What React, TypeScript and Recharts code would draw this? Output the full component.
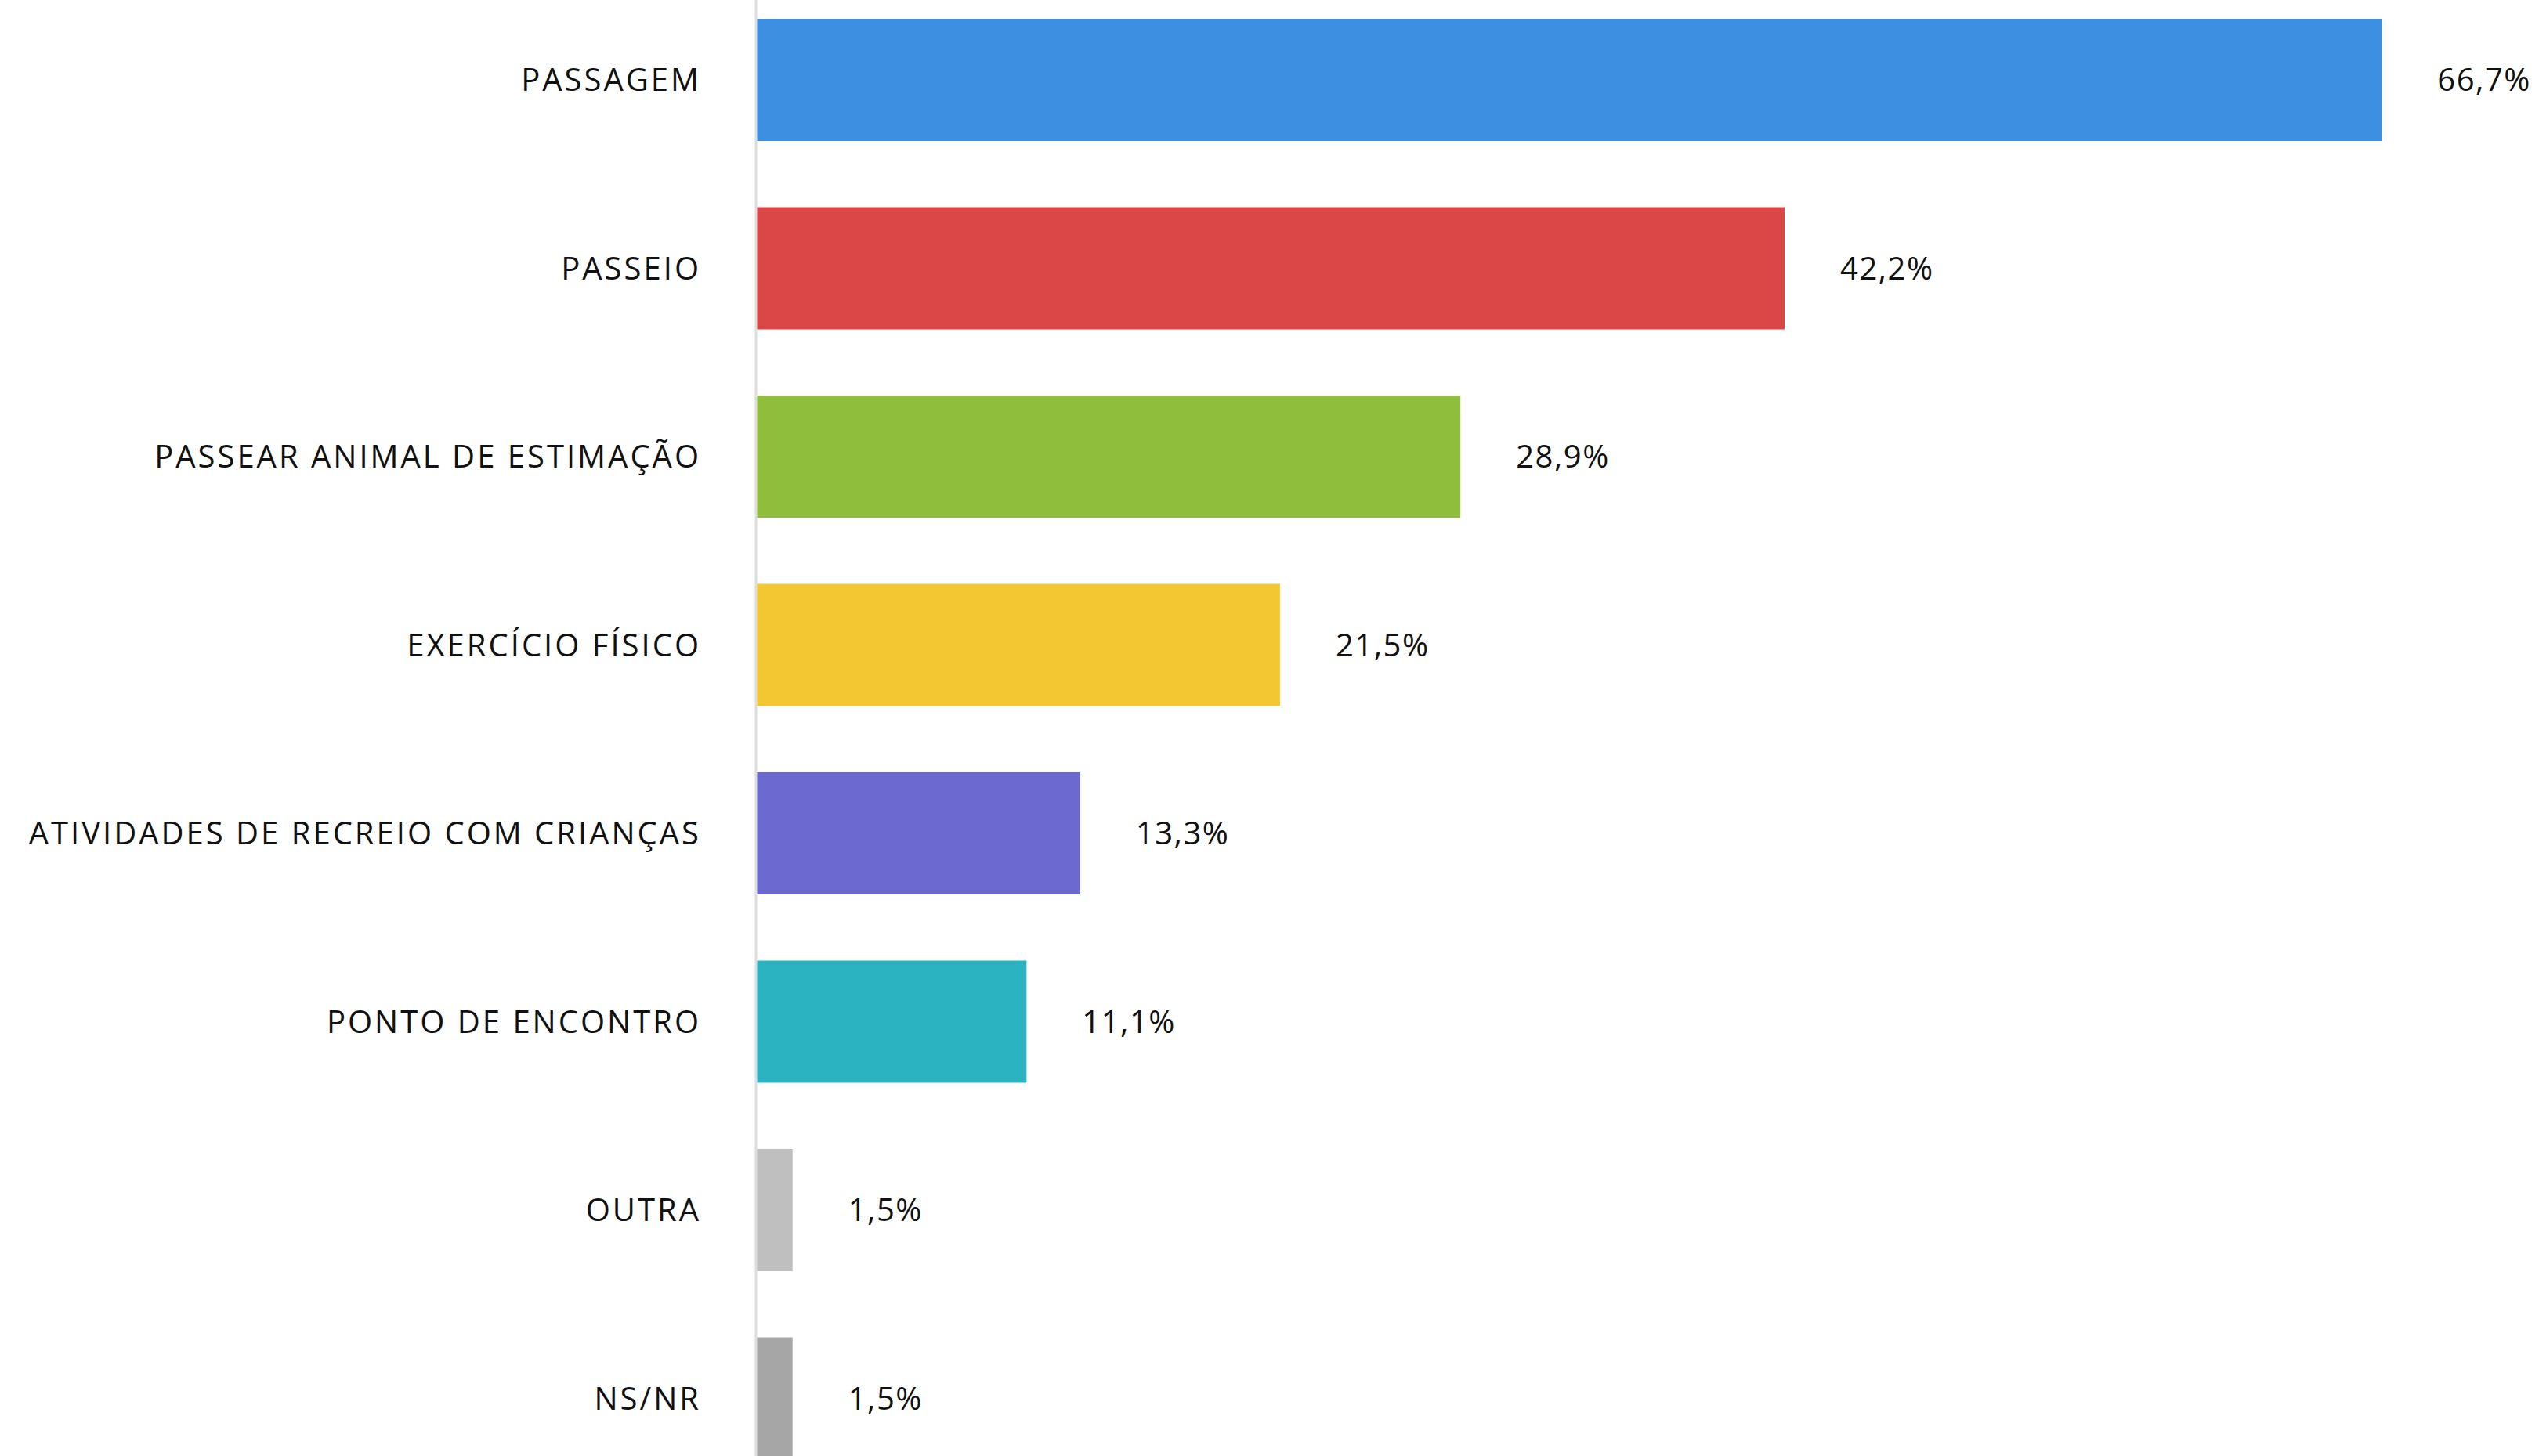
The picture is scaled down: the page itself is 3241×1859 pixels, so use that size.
import React from 'react'
import { BarChart, Bar, XAxis, YAxis, Cell, LabelList } from 'recharts'

const categories = [
  'PASSAGEM',
  'PASSEIO',
  'PASSEAR ANIMAL DE ESTIMAÇÃO',
  'EXERCÍCIO FÍSICO',
  'ATIVIDADES DE RECREIO COM CRIANÇAS',
  'PONTO DE ENCONTRO',
  'OUTRA',
  'NS/NR',
]

const values = [66.7, 42.2, 28.9, 21.5, 13.3, 11.1, 1.5, 1.5]

const barColors = [
  '#3d8fe2',
  '#db4646',
  '#8ebe3c',
  '#f2c732',
  '#6c6ad0',
  '#2bb3c2',
  '#bfbfbf',
  '#a6a6a6',
]

const data = categories.map((name, i) => ({ name, value: values[i] }))

const font = '"Open Sans", sans-serif'

const fmt = (v: any) => `${Number(v).toFixed(1).replace('.', ',')}%`

export default function App() {
  return (
    <div
      style={{
        position: 'absolute',
        left: 0,
        top: 0,
        width: 3241,
        height: 1859,
        overflow: 'hidden',
        background: '#fff',
      }}
    >
      <div style={{ position: 'relative', top: -18 }}>
        <BarChart
          width={3241}
          height={1924}
          data={data}
          layout="vertical"
          margin={{ top: 0, right: 98, bottom: 0, left: 0 }}
        >
          <XAxis type="number" domain={[0, 70]} hide />
          <YAxis
            type="category"
            dataKey="name"
            width={965}
            tickLine={false}
            tickSize={0}
            tickMargin={70}
            axisLine={{ stroke: '#dddddd', strokeWidth: 3 }}
            tick={{ fill: '#111', fontSize: 40, fontFamily: font, letterSpacing: 3 }}
          />
          <Bar dataKey="value" barSize={156} isAnimationActive={false}>
            {data.map((d, i) => (
              <Cell key={d.name} fill={barColors[i]} />
            ))}
            <LabelList
              dataKey="value"
              position="right"
              offset={71}
              formatter={fmt}
              style={{ fill: '#111', fontSize: 40, fontFamily: font, letterSpacing: 1.5 }}
            />
          </Bar>
        </BarChart>
      </div>
    </div>
  )
}
